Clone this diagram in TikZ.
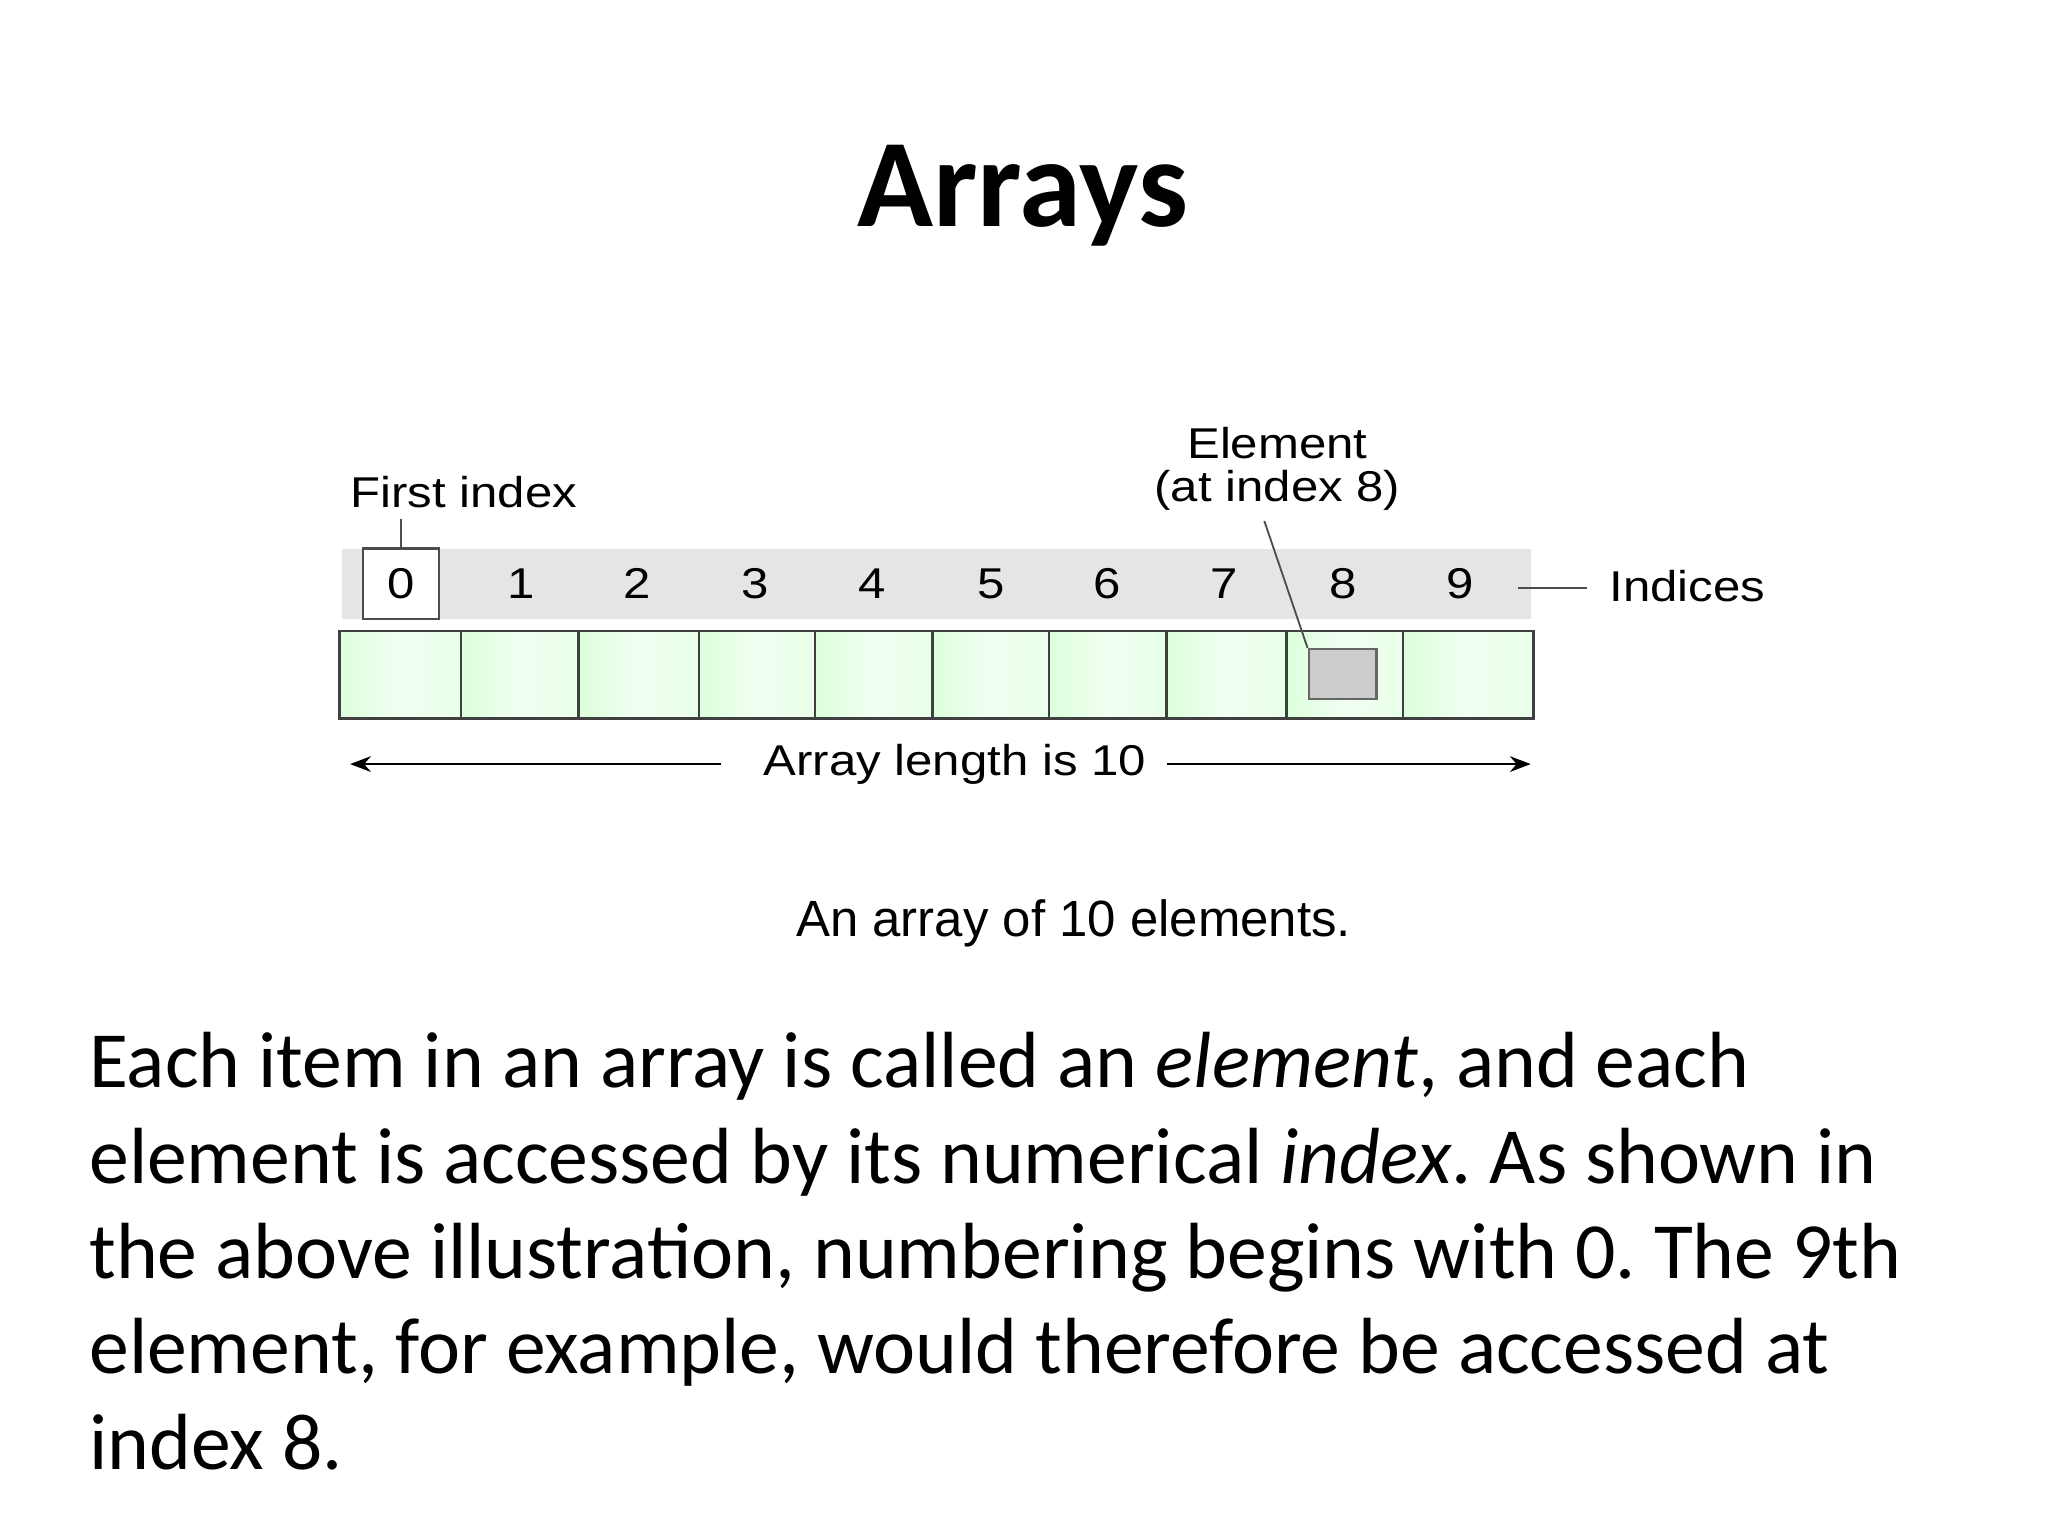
\documentclass[tikz,border=0pt]{standalone}
\usepackage{fontspec}
\usepackage{graphicx}
\setmainfont{Carlito}
\newfontfamily\arial{Liberation Sans}
\newcommand{\dtxt}[1]{\scalebox{1.14}[1]{\arial\fontsize{16.5}{18}\selectfont #1}}
\usetikzlibrary{arrows.meta}
\begin{document}
\begin{tikzpicture}[x=0.5pt,y=-0.5pt,
  lbl/.style={inner sep=0pt},
  cell/.style={draw=black!75,line width=0.9pt,left color=green!14!white,right color=green!9!white,middle color=green!5!white},
  lead/.style={draw=black!70,line width=0.7pt}]
\useasboundingbox (0,0) rectangle (1568,1176);
\node (title) at (783,150) {\fontsize{48}{54}\selectfont\bfseries Arrays};
% index strip
\fill[black!10] (262,420) rectangle (1172,474);
\node[draw=black!70,line width=1pt,fill=white,minimum width=29pt,minimum height=27pt,inner sep=0pt] (b0) at (307,447) {};
\foreach \i/\x in {0/307,1/399,2/488,3/578,4/668,5/759,6/848,7/937,8/1028,9/1118}
  \node[lbl] (i\i) at (\x,447) {\dtxt{\i}};
% cells
\foreach \a/\b [count=\k from 0] in {260/353,353/443,443/535,535/624,624/714,714/803,803/893,893/985,985/1074,1074/1174}
  \path[cell] (\a,483) rectangle (\b,550) coordinate (c\k);
\node[draw=black!60,fill=black!20,line width=0.9pt,minimum width=26pt,minimum height=19pt,inner sep=0pt] (e8) at (1028,516) {};
% labels
\node[lbl,anchor=west] (first) at (268,377) {\dtxt{First index}};
\draw[lead] (b0.north) -- ++(0,-22);
\node[lbl,align=center] (elem) at (978,359) {\dtxt{Element}\\[3pt]\dtxt{(at index 8)}};
\draw[lead] (elem.south) ++(-10,8) coordinate (es) -- (e8.north west);
\node[lbl,anchor=west] (ind) at (1232,449) {\dtxt{Indices}};
\coordinate (stripend) at (1162,450);
\draw[lead] (stripend) -- ++(53,0);
\node[lbl] (len) at (731,585) {\dtxt{Array length is 10}};
\coordinate (la) at (268,585);
\coordinate (ra) at (1172,585);
\draw[line width=0.9pt,-{Stealth[length=8pt,width=6pt]}] ([xshift=-16pt]len.west) -- (la);
\draw[line width=0.9pt,-{Stealth[length=8pt,width=6pt]}] ([xshift=8pt]len.east) -- (ra);
\node (cap) at (822,707) {\arial\fontsize{19.5}{22}\selectfont An array of 10 elements.};
\node[anchor=north west,align=left,inner sep=0pt,font=\fontsize{30.5}{36.5}\selectfont\frenchspacing] (body) at (68,790)
{Each item in an array is called an \textit{element}, and each\\
element is accessed by its numerical \textit{index}. As shown in\\
the above illustration, numbering begins with 0. The 9th\\
element, for example, would therefore be accessed at\\
index 8.};
\end{tikzpicture}
\end{document}
